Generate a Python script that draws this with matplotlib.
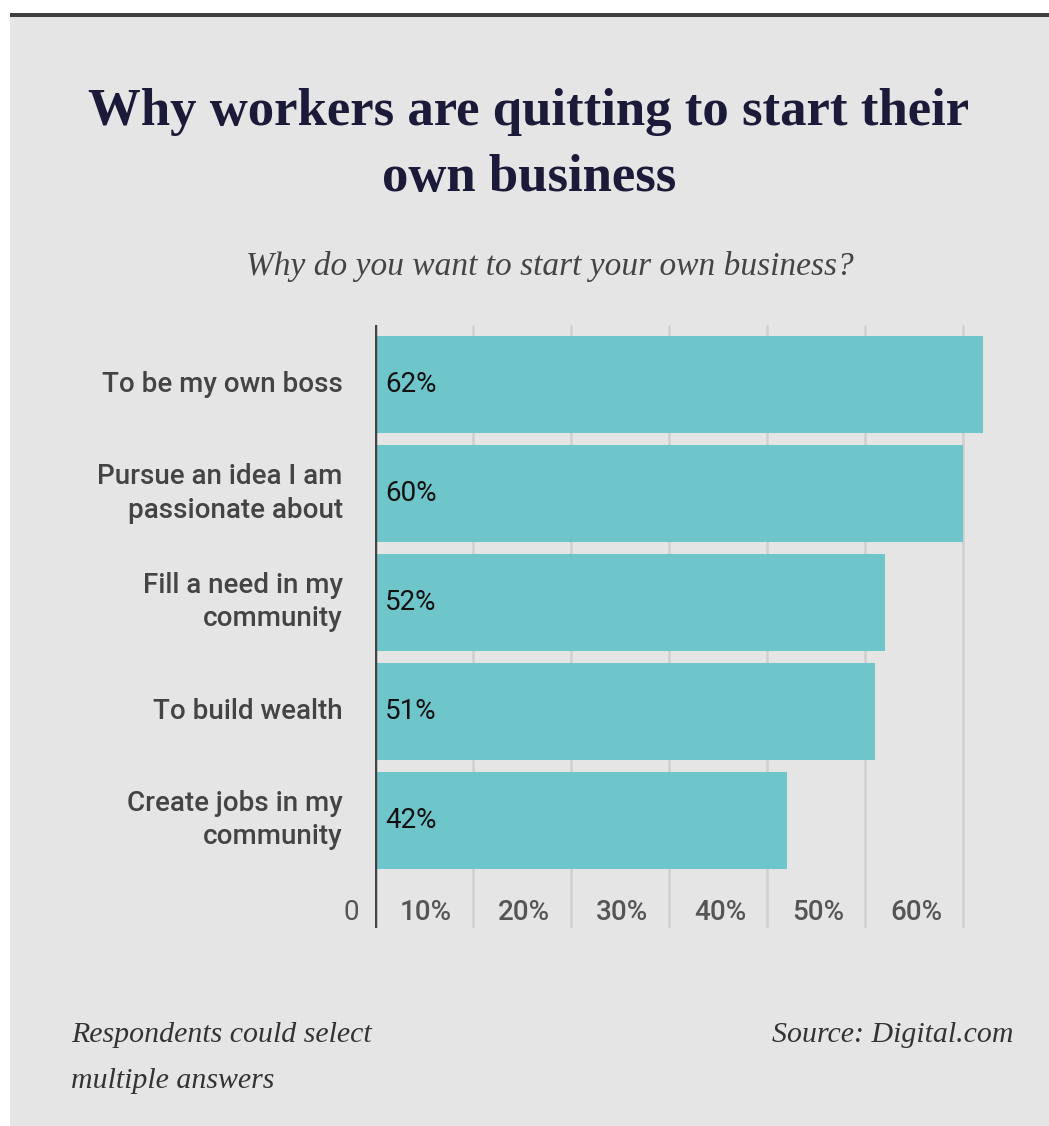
import matplotlib.pyplot as plt
from matplotlib.patches import Rectangle

reasons = ['To be my own boss',
           'Pursue an idea I am\npassionate about',
           'Fill a need in my\ncommunity',
           'To build wealth',
           'Create jobs in my\ncommunity']
shares = [62, 60, 52, 51, 42]
ticks = [10, 20, 30, 40, 50, 60]

W, H = 1049, 1126
BG = '#e5e5e5'
TEAL = '#6fc6ca'


def fx(px):
    return px / W


def fy(py):
    return 1 - py / H


fig = plt.figure(figsize=(W / 100, H / 100), dpi=100, facecolor='white')

# grey card with a dark rule along the top
fig.patches.append(Rectangle((fx(10), 0), 1 - fx(10), fy(13), transform=fig.transFigure,
                             facecolor=BG, edgecolor='none', zorder=-3))
fig.patches.append(Rectangle((fx(10), fy(17)), 1 - fx(10), 4 / H, transform=fig.transFigure,
                             facecolor='#3f3f3f', edgecolor='none', zorder=-2))

serif = 'Liberation Serif'
sans = 'Roboto'

fig.text(fx(529), fy(125), 'Why workers are quitting to start their', ha='center',
         va='baseline', fontsize=38, fontweight='bold', family=serif, color='#1b1a38')
fig.text(fx(529), fy(191), 'own business', ha='center', va='baseline', fontsize=38,
         fontweight='bold', family=serif, color='#1b1a38')
fig.text(fx(550), fy(275), 'Why do you want to start your own business?', ha='center',
         va='baseline', fontsize=24, style='italic', family=serif, color='#444444')

fig.text(fx(71), fy(1042), 'Respondents could select', ha='left', va='baseline',
         fontsize=21.5, style='italic', family=serif, color='#333333')
fig.text(fx(71), fy(1088), 'multiple answers', ha='left', va='baseline',
         fontsize=21.5, style='italic', family=serif, color='#333333')
fig.text(fx(1014), fy(1042), 'Source: Digital.com', ha='right', va='baseline',
         fontsize=21.5, style='italic', family=serif, color='#333333')

# plot area: zero at x=375px, 10% per 98px
left, right, top, bottom = 375, 1030, 325, 928
ax = fig.add_axes([fx(left), fy(bottom), fx(right) - fx(left), fy(top) - fy(bottom)])
ax.set_facecolor('none')
pitch = 108.9
ax.set_xlim(0, (right - left) / 9.8)
ax.set_ylim((bottom - 384.5) / pitch, (top - 384.5) / pitch)
ax.axis('off')

y0, y1 = ax.get_ylim()
ax.vlines(ticks, y1, y0, color='#cfcfcf', linewidth=1.8, zorder=1)
ax.vlines(0, y1, y0, color='#434343', linewidth=3.2, zorder=4)

pos = list(range(len(shares)))
ax.barh(pos, shares, height=0.89, color=TEAL, edgecolor='none', zorder=2)

for p, v, r in zip(pos, shares, reasons):
    ax.text(1.0, p, f'{v}%', ha='left', va='center', fontsize=20,
            family=sans, color='#111111', zorder=5)
    ax.text(-3.3, p, r, ha='right', va='center', fontsize=20, family=sans,
            fontweight='medium', color='#444444', linespacing=1.3, clip_on=False)

ty = (912 - 384.5) / pitch
ax.text(-1.6, ty, '0', ha='right', va='center', fontsize=20, family=sans,
        color='#555555', clip_on=False)
for t in ticks:
    ax.text(t - 4.8, ty, f'{t}%', ha='center', va='center', fontsize=20,
            family=sans, fontweight='medium', color='#555555')

fig.savefig('out.png', dpi=100, facecolor='white')
